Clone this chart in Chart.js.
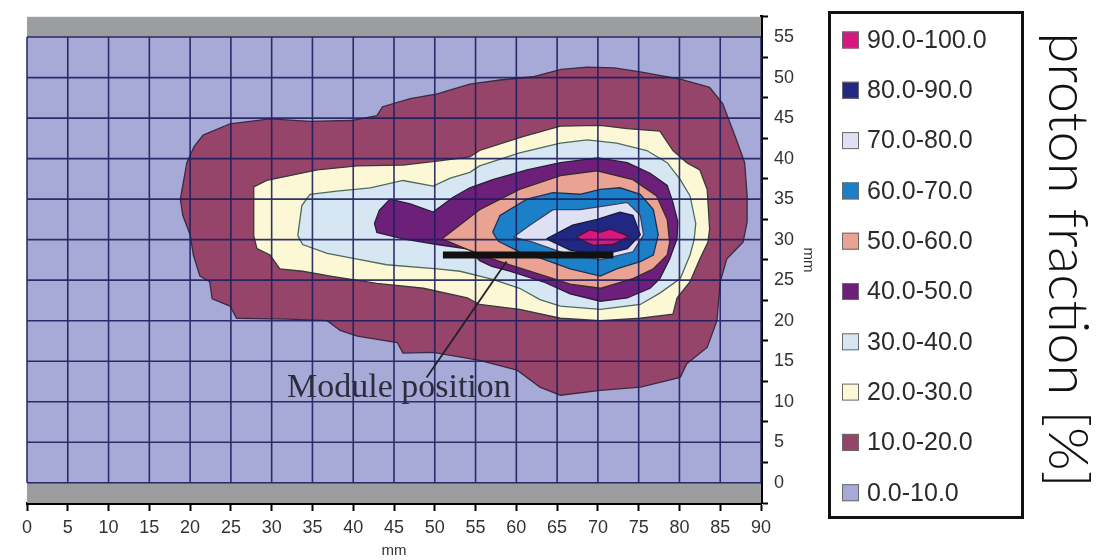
<!DOCTYPE html>
<html>
<head>
<meta charset="utf-8">
<script src="https://cdn.jsdelivr.net/npm/chart.js@4"></script>
<style>
  html, body { margin: 0; padding: 0; background: #fff; }
  #wrap { width: 1105px; height: 560px; }
</style>
</head>
<body>
<div id="wrap"><canvas id="chart" width="1105" height="560"></canvas></div>
<script>
// proton fraction bands, lowest first
const levelLabels = ['0.0-10.0', '10.0-20.0', '20.0-30.0', '30.0-40.0', '40.0-50.0',
                     '50.0-60.0', '60.0-70.0', '70.0-80.0', '80.0-90.0', '90.0-100.0'];
const levelColors = ['#a7aad6', '#96446a', '#fcf8d6', '#d6e6f2', '#6c207a',
                     '#eaa292', '#1c80c8', '#dee0f4', '#202884', '#d81880'];
const levelEdges = ['rgba(0,0,0,0)', '#3a2a44', '#3a3a3a', '#4d6b5a', '#2e1a3a',
                    '#3a2a2a', '#1e3050', '#40405a', '#1a1a40', '#501030'];

// contour outlines, [x mm, y mm]
const level0 = [[0, 0], [0, 55], [90, 55], [90, 0]];
const level10 = [[18.8, 35], [19.6, 39.5], [20.5, 41.5], [21.6, 42.9], [24.9, 44.3], [29.8, 44.9],
  [34.7, 44.6], [39.8, 44.7], [42.9, 45.3], [43.6, 46.4], [47, 47.4], [50.3, 48], [54.3, 49.2],
  [58, 49.7], [62, 50.1], [65.5, 51], [68.7, 51.3], [72, 51.2], [75.2, 50.7], [80.1, 49.8],
  [83.7, 48.8], [85.3, 46.8], [87, 42.3], [88, 39.5], [88.3, 35.4], [88.3, 32.2], [87.8, 29.7],
  [85.8, 27.6], [85, 24.8], [84.6, 20], [83.4, 16.7], [80.9, 14.7], [80.1, 13], [75.2, 11.8],
  [70.3, 11.4], [65.4, 10.8], [62.9, 11.8], [60.1, 13.9], [55.5, 15.1], [49.8, 16.1], [46.1, 16],
  [45.4, 17.3], [40.5, 18.1], [38.4, 18.8], [36.8, 20], [31.9, 20.2], [25.7, 20.3], [24.9, 21.8],
  [22.7, 22.7], [22.4, 24.8], [21.2, 25.5], [20.4, 28.1], [20, 30.6], [19.1, 33]];
const level20 = [[27.8, 30.5], [27.8, 36.5], [29.4, 37.3], [35.6, 38.6], [40.5, 39.1], [46.1, 39.2],
  [50.3, 39.7], [54.3, 40.2], [55.5, 41], [60.8, 42.7], [65.4, 44], [70.3, 44.1], [73.6, 43.7],
  [77.6, 43.4], [79.2, 41], [80.9, 39.5], [82.5, 38.6], [83.4, 36.2], [83.7, 31.3], [83.5, 29.7],
  [82.5, 27.6], [81.3, 24.8], [79.7, 22.8], [79.2, 20.8], [75.2, 20.3], [70.3, 20], [65.4, 20.3],
  [60.4, 21.4], [55.5, 22], [54, 22.8], [48.6, 24], [42.9, 24.6], [37.2, 25.5], [33.8, 26.1],
  [31, 26.4], [29.8, 28.1], [28.2, 28.9]];
const level30 = [[33.2, 30.5], [33.7, 34.2], [34.7, 35.6], [38, 36], [42.1, 36.4], [46.1, 37.3],
  [49.8, 36.6], [51.9, 37.6], [54.3, 38.3], [55.5, 39.1], [60.4, 40.7], [65.4, 41.9], [68.7, 42.3],
  [72.3, 41.9], [76, 41], [78.5, 39.5], [80.1, 37.4], [81.3, 35.4], [82, 32], [81.8, 30],
  [81.3, 28.1], [80.1, 25.2], [77.6, 23.4], [75.2, 22], [70.3, 21.4], [65.4, 21.8], [62.9, 22.6],
  [60.4, 24], [57.1, 25.1], [53.1, 26.1], [50.3, 26.4], [44.1, 26.9], [40.5, 27.6], [36.8, 28.3],
  [33.8, 29.4]];
const level40 = [[42.6, 32], [43.2, 33.6], [44.5, 35], [47, 34.4], [49.8, 33.4], [52.2, 35.2],
  [54.3, 36.4], [57.1, 37.4], [61.3, 38.6], [65.4, 39.5], [70, 40.1], [73.6, 39.5], [76.4, 38.2],
  [78.5, 36.7], [79.2, 34.6], [79.8, 32.2], [79.7, 30.1], [78.8, 27.6], [77.6, 25.2], [76.4, 24],
  [73.6, 22.8], [70.3, 22.4], [66.6, 23.3], [63.3, 24.8], [59.2, 26.1], [57, 26.7], [55.5, 27.4],
  [54.3, 28.8], [50.3, 29.4], [46.1, 30.1], [42.9, 30.9]];
const level50 = [[50.9, 30.1], [55.5, 33.7], [60.4, 36.2], [65.4, 37.9], [69.9, 38.5], [74.3, 37.4],
  [77.2, 35.4], [78.5, 32.5], [78.8, 29.7], [78.5, 28.1], [76.8, 26.4], [74.3, 25.2], [70.3, 24],
  [66.6, 24.5], [62.9, 25.7], [59.2, 26.9], [56, 28], [53, 29.2]];
const level60 = [[57.1, 30.9], [58, 33], [61.3, 35], [64.5, 35.8], [67.8, 35.6], [70.3, 36.2],
  [72.7, 36.4], [75.2, 35.6], [76.8, 33.7], [77.4, 30.6], [76.8, 28.1], [75.2, 27.3], [72.3, 26.4],
  [70.3, 25.5], [66.6, 26.4], [63.3, 27.6], [60.4, 28.5], [57.8, 29.8]];
const level70 = [[59.6, 30.3], [61.7, 31.8], [64.5, 33.7], [67.8, 33.7], [71.1, 34.2], [73.6, 34.6],
  [75.2, 33], [75.6, 30.6], [74.3, 28.5], [70.3, 27.5], [65.4, 28.5], [62, 29.7]];
const level80 = [[63.7, 30.1], [66.9, 31.8], [69.9, 32.5], [72.7, 33.4], [74.3, 33], [75.2, 30.6],
  [73.6, 28.9], [70.3, 28.1], [66.6, 28.7]];
const level90 = [[67.4, 30.3], [69, 31.2], [70.3, 30.9], [71.5, 31.3], [73.8, 30.4], [71.8, 29.4],
  [69.4, 29.3]];
const contours = [level0, level10, level20, level30, level40, level50, level60, level70, level80, level90];

// detector module and its annotation
const moduleBar = [[51, 28.1], [71.9, 28.1]];
const moduleArrow = [[58.8, 27.3], [49, 13]];
const moduleText = 'Module position';
const moduleTextAt = [45.6, 10.6];

const xTicks = [0, 5, 10, 15, 20, 25, 30, 35, 40, 45, 50, 55, 60, 65, 70, 75, 80, 85, 90];
const yTicks = [-2.5, 0, 2.5, 5, 7.5, 10, 12.5, 15, 17.5, 20, 22.5, 25, 27.5, 30, 32.5, 35,
                37.5, 40, 42.5, 45, 47.5, 50, 52.5, 55, 57.5];
const yLabels = [0, 5, 10, 15, 20, 25, 30, 35, 40, 45, 50, 55];
const gridX = xTicks;
const gridY = yLabels;

const pts = a => a.map(([x, y]) => ({ x, y }));

Chart.defaults.font.family = '"Liberation Sans", Arial, Helvetica, sans-serif';

const levelSets = levelLabels.map((label, i) => ({
  label,
  data: pts(contours[i].concat([contours[i][0]])),
  backgroundColor: levelColors[i],
  borderColor: levelEdges[i],
  borderWidth: i === 0 ? 0 : 1.3,
  fill: 'shape',
  pointRadius: 0,
  tension: 0,
  isLevel: true
})).reverse();   // 90-100 first so it is drawn on top

const datasets = [
  { label: 'module', data: pts(moduleBar), borderColor: '#111', borderWidth: 7,
    borderCapStyle: 'butt', fill: false, pointRadius: 0 },
  { label: 'arrow', data: pts(moduleArrow), borderColor: '#222', borderWidth: 1.8,
    fill: false, pointRadius: 0 },
  ...levelSets
];
const topLevelIndex = 2;

const decor = {
  id: 'decor',
  beforeDatasetsDraw(chart) {
    const { ctx, chartArea: a } = chart;
    ctx.save();
    ctx.fillStyle = '#9c9d9f';
    ctx.fillRect(a.left, a.top, a.width, a.height);
    ctx.restore();
  },
  afterDatasetDraw(chart, args) {
    if (args.index !== topLevelIndex) return;
    const { ctx, scales: { x, y } } = chart;
    ctx.save();
    ctx.strokeStyle = 'rgba(28,30,92,0.9)';
    ctx.lineWidth = 1.6;
    ctx.beginPath();
    gridX.forEach(v => {
      const px = x.getPixelForValue(v);
      ctx.moveTo(px, y.getPixelForValue(0));
      ctx.lineTo(px, y.getPixelForValue(55));
    });
    gridY.forEach(v => {
      const py = y.getPixelForValue(v);
      ctx.moveTo(x.getPixelForValue(0), py);
      ctx.lineTo(x.getPixelForValue(90), py);
    });
    ctx.stroke();
    ctx.restore();
  },
  afterDatasetsDraw(chart) {
    const { ctx, scales: { x, y } } = chart;
    ctx.save();
    ctx.font = '34px "Liberation Serif", "Times New Roman", serif';
    ctx.fillStyle = '#2c2c3c';
    ctx.textAlign = 'center';
    ctx.textBaseline = 'alphabetic';
    ctx.fillText(moduleText, x.getPixelForValue(moduleTextAt[0]), y.getPixelForValue(moduleTextAt[1]));
    ctx.restore();
  },
  afterDraw(chart) {
    const { ctx } = chart;
    ctx.save();
    // legend
    const items = chart.data.datasets.filter(d => d.isLevel);
    ctx.font = '25px "Liberation Sans", Arial, sans-serif';
    ctx.textBaseline = 'middle';
    ctx.textAlign = 'left';
    items.forEach((d, i) => {
      const cy = 40 + i * 50.3;
      ctx.fillStyle = d.backgroundColor;
      ctx.fillRect(842, cy - 8.5, 17, 17);
      ctx.strokeStyle = '#6a6a6a';
      ctx.lineWidth = 1;
      ctx.strokeRect(842.5, cy - 8, 16, 16);
      ctx.fillStyle = '#2b2b2b';
      ctx.fillText(d.label, 867, cy + 1);
    });
    ctx.strokeStyle = '#111';
    ctx.lineWidth = 3;
    ctx.strokeRect(829.5, 12.5, 193, 505);
    // colour bar title
    ctx.translate(1067, 260);
    ctx.rotate(Math.PI / 2);
    ctx.font = '300 56px Lato, "Open Sans", sans-serif';
    ctx.fillStyle = '#111';
    ctx.textAlign = 'center';
    ctx.fillText('proton fraction [%]', 0, 0);
    ctx.restore();
  }
};

new Chart(document.getElementById('chart'), {
  type: 'line',
  data: { datasets },
  options: {
    responsive: false,
    animation: false,
    layout: { padding: { left: 27, top: 12, right: 284, bottom: 0 } },
    plugins: { legend: { display: false }, tooltip: { enabled: false } },
    scales: {
      x: {
        type: 'linear',
        min: 0,
        max: 90,
        afterBuildTicks: s => { s.ticks = xTicks.map(v => ({ value: v })); },
        afterFit: s => { s.height = 57; },
        grid: { drawOnChartArea: false, tickLength: 8, tickWidth: 2, tickColor: '#000' },
        border: { color: '#000', width: 3 },
        ticks: { autoSkip: false, maxRotation: 0, padding: 6, color: '#333', font: { size: 18 } },
        title: { display: true, text: 'mm', color: '#333', font: { size: 15 }, padding: 0 }
      },
      y: {
        type: 'linear',
        position: 'right',
        min: -2.5,
        max: 57.5,
        afterBuildTicks: s => { s.ticks = yTicks.map(v => ({ value: v })); },
        afterFit: s => { s.width = 60; },
        grid: {
          drawOnChartArea: false, tickLength: 7, tickWidth: 2,
          tickColor: c => (c.tick && yLabels.includes(c.tick.value)) ? 'rgba(0,0,0,0)' : '#000'
        },
        border: { color: '#000', width: 3 },
        ticks: {
          autoSkip: false, padding: 6, color: '#333', font: { size: 18 },
          callback: v => yLabels.includes(v) ? String(v) : ''
        },
        title: { display: true, text: 'mm', color: '#333', font: { size: 15 }, padding: 4 }
      }
    }
  },
  plugins: [decor]
});
</script>
</body>
</html>
